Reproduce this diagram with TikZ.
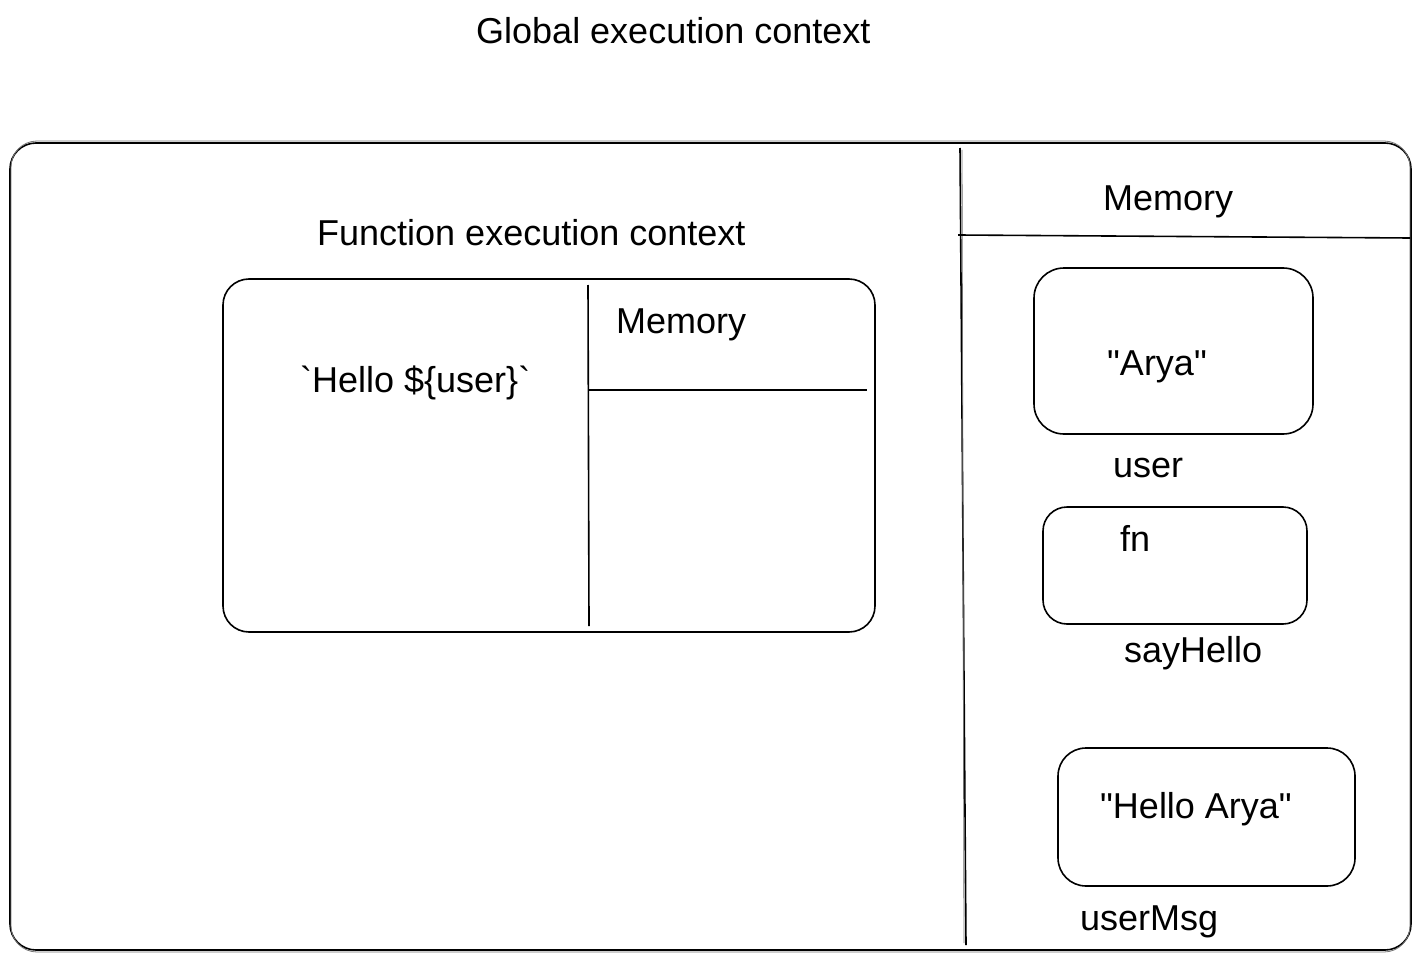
\documentclass[tikz,border=0pt]{standalone}
\usepackage{fontspec}
\setmainfont{Liberation Sans}[Ligatures=TeXOff]
\begin{document}
\begin{tikzpicture}[x=1pt,y=-1pt,
  lbl/.style={anchor=base west,inner sep=0pt,font=\fontsize{36}{43}\selectfont},
  box/.style={draw=black,line width=1.6pt,rounded corners=26pt},
  rule/.style={draw=black,line width=1.6pt},
  ghost/.style={draw=black!55,line width=0.8pt,rounded corners=26pt}]
\path[fill=white] (0,0) rectangle (1421,960);
\useasboundingbox (0,0) rectangle (1421,960);
% outer global box
\draw[box] (10,143) rectangle (1411,950);
\draw[ghost] (11,141) rectangle (1410,952);
\draw[rule] (960,148) -- (966,945);
\draw[draw=black!55,line width=0.8pt] (962,150) -- (964,943);
\draw[rule] (958,235) -- (1410,238);
% inner function box
\draw[box] (223,279) rectangle (875,632);
\draw[rule] (588,285) -- (589,626);
\draw[rule] (589,390) -- (867,390);
% memory slots
\draw[box,rounded corners=30pt] (1034,268) rectangle (1313,434);
\draw[box,rounded corners=24pt] (1043,507) rectangle (1307,624);
\draw[box,rounded corners=28pt] (1058,748) rectangle (1355,886);
% labels
\node[lbl] (g) at (476,44) {Global execution context};
\node[lbl] (f) at (317,245) {Function execution context};
\node[lbl] (m1) at (1103,211) {Memory};
\node[lbl] (m2) at (616,333) {Memory};
\node[lbl] (h) at (300,392) {`Hello \$\{user\}`};
\node[lbl] (a) at (1107,375) {"Arya"};
\node[lbl] (u) at (1113,477) {user};
\node[lbl] (fn) at (1120,551) {fn};
\node[lbl] (s) at (1124,662) {sayHello};
\node[lbl] (ha) at (1100,818) {"Hello Arya"};
\node[lbl] (um) at (1080,930) {userMsg};
\end{tikzpicture}
\end{document}
